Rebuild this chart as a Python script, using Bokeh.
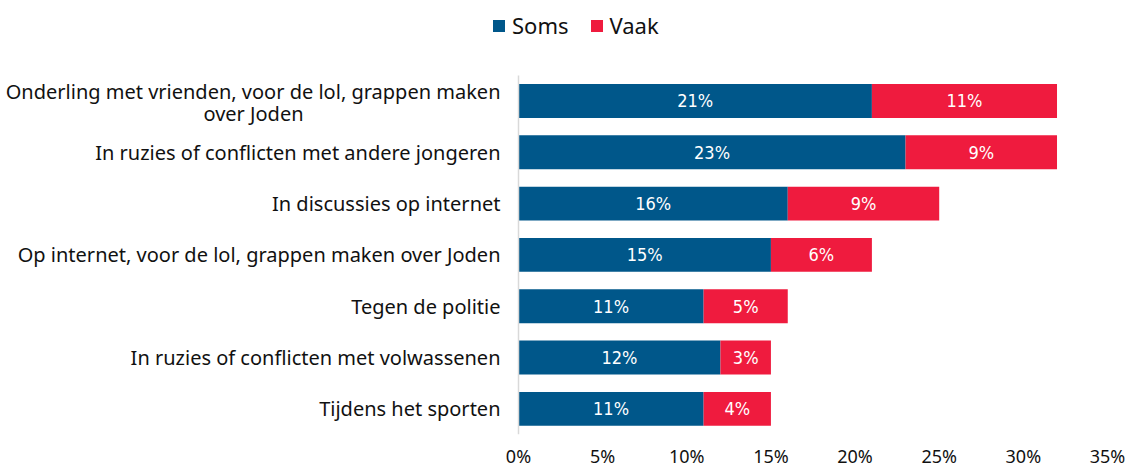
from bokeh.plotting import figure
from bokeh.models import (ColumnDataSource, Legend, LegendItem,
                          Range1d, FixedTicker, Label)
from bokeh.embed import file_html
from bokeh.resources import INLINE
from bokeh.core.properties import value

categories = [
    "Onderling met vrienden, voor de lol, grappen maken\nover Joden",
    "In ruzies of conflicten met andere jongeren",
    "In discussies op internet",
    "Op internet, voor de lol, grappen maken over Joden",
    "Tegen de politie",
    "In ruzies of conflicten met volwassenen",
    "Tijdens het sporten",
]
soms = [21, 23, 16, 15, 11, 12, 11]
vaak = [11, 9, 9, 6, 5, 3, 4]
series = ["Soms", "Vaak"]
colors = ["#00578A", "#EF1B3E"]
tick_values = [0, 5, 10, 15, 20, 25, 30, 35]
tick_labels = ["0%", "5%", "10%", "15%", "20%", "25%", "30%", "35%"]

FONT = "Noto Sans"
NARROW = "DejaVu Sans Condensed"

n = len(categories)
ypos = [n - 1 - i for i in range(n)]  # top category highest
source = ColumnDataSource(dict(y=ypos, cat=categories, Soms=soms, Vaak=vaak))

# geometry of the drawing area (pixels)
W, H = 1125, 470
PLOT_LEFT, PLOT_RIGHT_PAD, PLOT_TOP, PLOT_BOTTOM_PAD = 518, 18, 75, 35
frame_w = W - PLOT_RIGHT_PAD
frame_h = H - PLOT_BOTTOM_PAD
xmax = tick_values[-1]
px_per_x = (frame_w - PLOT_LEFT) / xmax
px_per_y = (frame_h - PLOT_TOP) / n

p = figure(width=W, height=H,
           x_range=Range1d(-PLOT_LEFT / px_per_x, xmax),
           y_range=Range1d(-0.5, n - 0.5 + PLOT_TOP / px_per_y),
           output_backend="svg", toolbar_location=None,
           min_border_left=0, min_border_right=PLOT_RIGHT_PAD,
           min_border_top=0, min_border_bottom=PLOT_BOTTOM_PAD)

renderers = p.hbar_stack(series, y="y", height=0.66, color=colors,
                         line_color=None, source=source)

# value labels centered in segments
lab_x, lab_y, lab_t = [], [], []
for yy, s, v in zip(ypos, soms, vaak):
    lab_x += [s / 2, s + v / 2]
    lab_y += [yy, yy]
    lab_t += [f"{s}%", f"{v}%"]
p.text(x=lab_x, y=lab_y, text=lab_t, text_align="center", text_baseline="middle",
       text_color="white", text_font_size="18px", text_font=value(NARROW))

legend = Legend(items=[LegendItem(label=nm, renderers=[r]) for nm, r in zip(series, renderers)],
                orientation="horizontal", location=(491, frame_h - 41),
                glyph_width=15, glyph_height=15, label_standoff=6, spacing=20,
                padding=0, margin=0, border_line_color=None, background_fill_alpha=0,
                label_text_font_size="22px", label_text_font=FONT,
                label_text_color="#111111", label_height=24)
p.add_layout(legend, "center")

p.xgrid.visible = False
p.ygrid.visible = False
p.outline_line_color = None

ya = p.yaxis[0]
ya.fixed_location = 0
ya.bounds = (-0.5, n - 0.5)
ya.ticker = FixedTicker(ticks=ypos)
labels = {yy: c for yy, c in zip(ypos, categories)}
ya.axis_line_color = "#d9d9d9"
ya.axis_line_width = 1.5
ya.major_tick_line_color = None
ya.minor_tick_line_color = None
ya.major_tick_out = 0
ya.major_tick_in = 0
ya.major_label_text_font_size = "20px"
ya.major_label_text_font = FONT
ya.major_label_text_color = "#111111"
ya.major_label_standoff = 18

# two-line category label: first line right-aligned, second centered under it
multi_idx = 0
line1, line2 = categories[multi_idx].split("\n")
labels[ypos[multi_idx]] = ""
ya.major_label_overrides = labels
p.add_layout(Label(x=0, y=ypos[multi_idx], text=line1, x_offset=-18, y_offset=9,
                   text_align="right", text_baseline="middle",
                   text_font_size="20px", text_font=FONT, text_color="#111111"))
p.add_layout(Label(x=0, y=ypos[multi_idx], text=line2, x_offset=-265, y_offset=-13,
                   text_align="center", text_baseline="middle",
                   text_font_size="20px", text_font=FONT, text_color="#111111"))

xa = p.xaxis[0]
xa.axis_line_color = None
xa.major_tick_line_color = None
xa.minor_tick_line_color = None
xa.major_tick_out = 0
xa.major_tick_in = 0
xa.ticker = FixedTicker(ticks=tick_values)
xa.major_label_overrides = {t: l for t, l in zip(tick_values, tick_labels)}
xa.major_label_text_font_size = "18px"
xa.major_label_text_font = FONT
xa.major_label_text_color = "#111111"
xa.major_label_standoff = 9

open("out.html", "w").write(file_html(p, INLINE))
